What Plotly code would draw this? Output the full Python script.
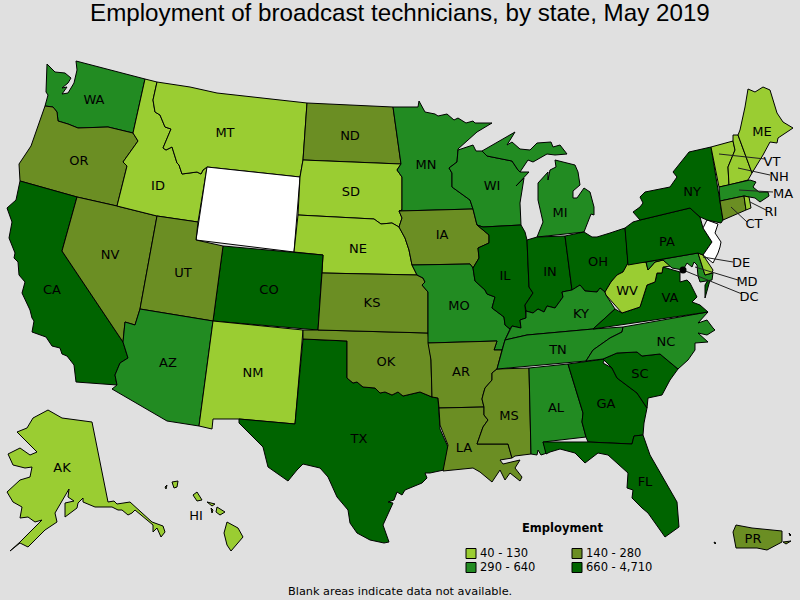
import plotly.graph_objects as go

# No topojson without network, so the outlines are traced by hand (map pixels)
WA = [(47,64),(55,72),(65,73),(71,78),(68,83),(62,88),(67,87),(62,94),(68,93),(74,83),(77,70),(76,61),(145,79),(133,133),(108,127),(78,128),(68,124),(58,121),(57,112),(53,107),(45,106),(48,95),(46,92)]
OR = [(45,106),(53,107),(57,112),(58,121),(68,124),(78,128),(108,127),(133,133),(138,141),(123,162),(127,166),(117,206),(77,197),(20,181),(19,164),(31,146)]
CA = [(20,181),(16,200),(7,208),(12,222),(9,238),(15,253),(14,258),(18,262),(19,275),(25,282),(22,293),(30,310),(32,318),(34,321),(32,332),(46,337),(52,346),(60,348),(62,354),(67,356),(74,365),(76,382),(117,385),(115,375),(120,363),(128,358),(123,342),(62,251),(77,197)]
NV = [(77,197),(117,206),(157,216),(140,309),(135,325),(125,322),(123,342),(62,251)]
ID = [(145,79),(157,82),(153,100),(155,112),(160,115),(165,127),(171,129),(163,148),(166,150),(172,147),(177,163),(179,165),(182,174),(197,172),(201,174),(203,170),(207,167),(198,222),(157,216),(117,206),(127,166),(123,162),(138,141),(133,133)]
MT = [(157,82),(190,87),(217,93),(307,103),(303,160),(300,177),(207,167),(203,170),(201,174),(197,172),(182,174),(179,165),(177,163),(172,147),(166,150),(163,148),(171,129),(165,127),(160,115),(155,112),(153,100)]
WY = [(207,167),(300,177),(294,252),(196,240)]
ND = [(307,103),(393,107),(401,164),(303,160)]
SD = [(303,160),(401,164),(397,170),(402,177),(402,210),(399,211),(402,218),(399,227),(392,223),(381,224),(374,219),(298,215),(300,177)]
NE = [(298,215),(374,219),(381,224),(392,223),(399,227),(405,238),(409,250),(412,265),(417,275),(322,273),(323,255),(294,252)]
CO = [(223,246),(323,255),(318,330),(213,321)]
UT = [(157,216),(198,222),(196,240),(223,246),(213,321),(140,309)]
AZ = [(140,309),(213,321),(199,426),(167,421),(112,389),(117,385),(115,375),(120,363),(128,358),(123,342),(125,322),(135,325)]
NM = [(213,321),(303,330),(295,424),(239,419),(213,419),(212,429),(199,426)]
TX = [(303,339),(347,341),(347,378),(353,383),(357,382),(363,387),(375,388),(380,393),(385,392),(392,395),(398,392),(403,396),(420,392),(432,397),(438,398),(440,429),(448,447),(444,470),(430,473),(425,473),(427,478),(422,483),(405,490),(402,495),(397,492),(394,500),(388,502),(393,503),(383,525),(389,542),(384,543),(370,540),(357,533),(350,523),(348,510),(337,497),(328,477),(320,468),(303,464),(297,470),(288,481),(268,467),(263,447),(239,423),(239,419),(295,424)]
OK = [(303,330),(318,330),(428,333),(429,343),(431,360),(432,397),(420,392),(403,396),(398,392),(392,395),(385,392),(380,393),(375,388),(363,387),(357,382),(353,383),(347,378),(347,341),(303,339)]
KS = [(322,273),(417,275),(423,278),(425,282),(422,285),(428,292),(428,333),(318,330)]
MN = [(393,107),(418,107),(419,101),(425,112),(435,114),(438,116),(447,114),(454,120),(458,118),(466,123),(473,121),(475,123),(492,123),(477,132),(458,149),(457,162),(449,168),(452,173),(452,187),(470,200),(473,209),(399,211),(402,210),(402,177),(397,170),(401,164)]
IA = [(399,211),(473,209),(477,225),(489,235),(489,243),(478,248),(479,258),(473,268),(470,264),(412,265),(409,250),(405,238),(399,227),(402,218)]
MO = [(412,265),(470,264),(473,268),(475,281),(485,290),(487,294),(495,297),(492,308),(504,317),(505,325),(510,329),(505,340),(502,350),(494,350),(497,341),(428,343),(428,292),(422,285),(425,282),(423,278),(417,275)]
AR = [(428,343),(497,341),(494,350),(502,350),(497,369),(492,373),(492,380),(485,388),(483,395),(482,399),(484,407),(439,408),(438,398),(432,397),(431,360)]
LA = [(439,408),(484,407),(484,415),(488,420),(483,427),(477,444),(508,444),(512,458),(500,460),(503,464),(520,460),(515,468),(522,477),(520,481),(510,473),(505,480),(500,470),(492,482),(480,472),(473,468),(453,470),(443,471),(448,445),(440,425)]
MS = [(497,369),(529,368),(531,454),(515,456),(512,458),(508,444),(477,444),(483,427),(488,420),(484,415),(484,407),(482,399),(483,395),(485,388),(492,380),(492,373)]
WI = [(458,150),(473,145),(476,151),(482,151),(487,156),(512,161),(518,170),(520,172),(529,172),(516,186),(524,178),(520,203),(521,225),(483,227),(477,225),(473,209),(470,200),(452,187),(452,173),(449,168),(457,162)]
MI = [(482,151),(507,137),(515,132),(507,145),(512,142),(520,149),(530,150),(537,143),(551,142),(553,147),(560,145),(567,154),(555,155),(547,154),(533,162),(528,160),(520,172),(518,170),(512,161),(487,156),None,
      (555,160),(575,165),(578,172),(580,185),(573,191),(573,198),(577,198),(584,188),(590,192),(594,207),(594,215),(591,214),(584,232),(537,237),(543,222),(538,200),(538,183),(548,172),(548,180),(550,170),(556,167)]
IL = [(483,227),(521,225),(525,232),(527,240),(529,287),(533,293),(525,305),(526,318),(520,320),(521,328),(512,326),(510,329),(505,325),(504,317),(492,308),(495,297),(487,294),(485,290),(475,281),(473,268),(479,258),(478,248),(489,243),(489,235),(477,225)]
IN = [(527,240),(537,237),(565,236),(572,290),(562,292),(563,297),(555,308),(547,306),(544,312),(538,309),(533,313),(526,311),(525,305),(533,293),(529,287)]
OH = [(565,236),(584,232),(592,237),(597,237),(610,233),(625,228),(627,248),(628,263),(623,272),(617,275),(611,282),(605,292),(600,288),(597,292),(585,291),(580,285),(572,290)]
KY = [(526,311),(533,313),(538,309),(544,312),(547,306),(555,308),(563,297),(562,292),(572,290),(580,285),(585,291),(597,292),(600,288),(605,292),(606,295),(615,309),(593,329),(527,335),(505,340),(510,329),(512,326),(521,328),(520,320),(526,318)]
TN = [(505,340),(527,335),(593,329),(623,327),(622,332),(610,338),(593,350),(587,360),(586,361),(497,369),(502,350)]
AL = [(529,368),(568,364),(583,413),(582,422),(586,437),(543,442),(547,453),(541,455),(538,450),(537,455),(531,454)]
GA = [(568,364),(605,359),(603,363),(612,368),(617,378),(637,393),(647,408),(644,423),(643,435),(634,436),(632,444),(588,442),(586,437),(582,422),(583,413)]
SC = [(603,359),(617,353),(637,352),(642,356),(660,354),(678,369),(670,380),(662,395),(648,398),(647,408),(637,393),(617,378),(612,368)]
NC = [(623,327),(708,312),(698,323),(707,320),(713,328),(715,330),(707,335),(698,333),(708,342),(695,343),(695,350),(688,360),(678,369),(660,354),(642,356),(637,352),(617,353),(603,359),(586,361),(593,350),(610,338),(622,332)]
FL = [(543,442),(588,442),(632,444),(634,436),(643,435),(650,455),(677,502),(679,527),(665,537),(648,513),(642,508),(632,498),(633,490),(627,488),(628,473),(617,463),(608,455),(598,453),(585,463),(575,453),(560,449),(550,452),(546,454)]
VA = [(593,329),(615,309),(622,313),(640,307),(647,285),(655,282),(657,273),(662,273),(663,267),(680,272),(680,282),(687,280),(690,283),(697,297),(692,302),(700,305),(708,312),None,
      (712,273),(705,298),(705,285),(708,280)]
WV = [(627,248),(628,263),(646,262),(648,270),(655,262),(663,260),(671,266),(663,267),(662,273),(657,273),(655,282),(647,285),(640,307),(622,313),(606,295),(605,292),(611,282),(617,275),(623,272),(628,263)]
MD = [(646,262),(698,253),(705,275),(713,273),(712,280),(700,282),(698,276),(697,265),(694,262),(692,267),(687,263),(683,270),(672,268),(663,260),(655,262),(648,270)]
DE = [(698,253),(703,255),(713,270),(712,273),(705,275)]
PA = [(625,228),(633,222),(640,220),(690,208),(700,217),(703,228),(712,242),(703,255),(698,253),(628,265)]
NJ = [(707,220),(718,224),(715,233),(721,242),(720,247),(718,253),(713,263),(703,255),(712,242),(703,228)]
NY = [(711,147),(689,152),(673,172),(677,177),(670,187),(645,192),(640,197),(643,203),(640,207),(633,212),(640,220),(690,208),(700,217),(707,220),(721,223),(723,220)]
VT = [(711,147),(733,141),(735,150),(728,167),(729,185),(719,187)]
NH = [(733,135),(738,135),(752,173),(748,180),(729,185),(728,167),(735,150),(733,141)]
ME = [(748,89),(755,92),(763,87),(770,90),(777,113),(783,122),(793,128),(778,138),(777,143),(770,142),(763,155),(752,173),(738,135),(740,130),(745,107)]
MA = [(719,187),(750,180),(756,182),(753,187),(759,192),(768,192),(769,196),(760,202),(755,198),(749,197),(744,196),(720,201)]
CT = [(720,201),(744,196),(746,210),(723,220)]
RI = [(744,196),(749,197),(751,208),(746,210)]
AK = [(48,410),(62,418),(92,422),(108,502),(114,501),(117,504),(130,502),(152,522),(163,526),(165,532),(161,537),(157,528),(153,532),(153,525),(135,510),(132,513),(128,515),(122,510),(118,510),(112,507),(95,507),(83,502),(83,498),(78,503),(77,508),(65,517),(65,503),(74,501),(68,497),(69,489),(55,513),(57,522),(45,530),(37,538),(28,547),(20,543),(10,551),(20,542),(27,535),(42,520),(35,522),(28,517),(20,518),(22,507),(13,502),(7,492),(20,480),(30,477),(32,467),(25,468),(13,465),(8,454),(20,448),(30,455),(37,452),(17,432),(27,428),(33,418)]
HI = [(227,522),(238,528),(243,537),(231,551),(227,545),(224,533),None,
      (217,507),(225,512),(220,515),(216,512),None,
      (207,502),(215,504),(212,506),None,
      (211,508),(213,510),(212,513),None,
      (193,495),(197,492),(202,500),(197,501),None,
      (172,482),(178,481),(177,487),(174,488),None,
      (165,487),(167,485),(166,489)]
PR = [(736,525),(752,528),(782,531),(782,542),(767,550),(757,548),(736,548),(733,532),None,
      (783,542),(791,541),(786,544),None,
      (789,533),(791,535),(790,536),None,
      (714,542),(716,543),(715,544)]

# class index per state: 0 = 40-130, 1 = 140-280, 2 = 290-640, 3 = 660-4,710, None = no data
states = {
    "WA": (WA, 2), "OR": (OR, 1), "CA": (CA, 3), "NV": (NV, 1), "ID": (ID, 0), "MT": (MT, 0),
    "WY": (WY, None), "ND": (ND, 1), "SD": (SD, 0), "NE": (NE, 0), "CO": (CO, 3), "UT": (UT, 1),
    "AZ": (AZ, 2), "NM": (NM, 0), "TX": (TX, 3), "OK": (OK, 1), "KS": (KS, 1), "MN": (MN, 2),
    "IA": (IA, 1), "MO": (MO, 2), "AR": (AR, 1), "LA": (LA, 1), "MS": (MS, 1), "WI": (WI, 2),
    "MI": (MI, 2), "IL": (IL, 3), "IN": (IN, 3), "OH": (OH, 3), "KY": (KY, 2), "TN": (TN, 2),
    "AL": (AL, 2), "GA": (GA, 3), "SC": (SC, 3), "NC": (NC, 2), "FL": (FL, 3), "VA": (VA, 3),
    "WV": (WV, 0), "MD": (MD, 2), "DE": (DE, 0), "PA": (PA, 3), "NJ": (NJ, None), "NY": (NY, 3),
    "VT": (VT, 0), "NH": (NH, 0), "ME": (ME, 0), "MA": (MA, 2), "CT": (CT, 1), "RI": (RI, 0),
    "AK": (AK, 0), "HI": (HI, 0), "PR": (PR, 1),
}

label_names = ["WA","OR","CA","NV","ID","MT","UT","AZ","NM","CO","ND","SD","NE","KS","OK","TX","MN","IA","MO","AR","LA","WI","IL","IN","MI","OH","KY","TN","MS","AL","GA","SC","NC","FL","NY","PA","WV","VA","ME","AK","HI","PR"]
label_x = [94,79,52,110,158,225,183,168,253,269,350,351,358,372,386,359,426,442,459,461,464,492,505,550,560,598,581,558,509,556,606,640,666,645,692,667,627,670,762,62,196,753]
label_y = [101,162,291,256,187,134,274,364,374,291,137,193,250,304,363,440,166,236,307,373,449,187,277,273,214,263,315,351,417,409,405,375,343,483,193,243,292,299,133,469,517,540]

callout_names = ["VT","NH","MA","RI","CT","DE","MD","DC"]
callout_x = [772,779,783,771,754,741,747,749]
callout_y = [163,178,195,213,225,264,283,298]
leader_from = [(719,154),(738,168),(739,190),(750,202),(731,207),(703,257),(695,267),(683,270)]
leader_to = [(765,159),(770,175),(773,192),(766,210),(747,222),(733,262),(738,280),(742,294)]

class_labels = ["40 - 130", "140 - 280", "290 - 640", "660 - 4,710"]
class_colors = ["#9ACD32", "#6B8E23", "#228B22", "#006400"]
legend_x = [471, 577, 471, 577]
legend_y = [553.5, 553.5, 567.5, 567.5]

TEXT_FONT = "DejaVu Sans"


def split_xy(points):
    xs = [p[0] if p else None for p in points]
    ys = [p[1] if p else None for p in points]
    return xs, ys


def close_rings(points):
    out, start = [], None
    for p in points + [None]:
        if p is None:
            out += [start, None]
            start = None
        else:
            start = start or p
            out.append(p)
    return out[:-1]


fig = go.Figure()

for name, (points, group) in states.items():
    xs, ys = split_xy(close_rings(points))
    color = "#FFFFFF" if group is None else class_colors[group]
    fig.add_trace(go.Scatter(x=xs, y=ys, mode="lines", fill="toself", fillcolor=color,
                             line=dict(color="#000000", width=1), name=name, hoverinfo="name"))

for start, end in zip(leader_from, leader_to):
    fig.add_trace(go.Scatter(x=[start[0], end[0]], y=[start[1], end[1]], mode="lines",
                             line=dict(color="#222222", width=1), hoverinfo="skip"))

# DC dot
fig.add_trace(go.Scatter(x=[683], y=[270], mode="markers", marker=dict(color="#000000", size=7),
                         hoverinfo="skip"))

fig.add_trace(go.Scatter(x=label_x, y=label_y, mode="text", text=label_names,
                         textfont=dict(family=TEXT_FONT, size=13, color="#000000"), hoverinfo="skip"))
fig.add_trace(go.Scatter(x=callout_x, y=callout_y, mode="text", text=callout_names,
                         textfont=dict(family=TEXT_FONT, size=13, color="#000000"), hoverinfo="skip"))

# legend swatches and their labels
fig.add_trace(go.Scatter(x=legend_x, y=legend_y, mode="markers",
                         marker=dict(symbol="square", size=10, color=class_colors,
                                     line=dict(color="#000000", width=1)),
                         hoverinfo="skip"))
fig.add_trace(go.Scatter(x=[v + 9 for v in legend_x], y=[v + 1 for v in legend_y], mode="text",
                         text=class_labels, textposition="middle right",
                         textfont=dict(family=TEXT_FONT, size=11.5, color="#000000"),
                         hoverinfo="skip"))

fig.add_annotation(x=562, y=528, text="<b>Employment</b>", showarrow=False,
                   font=dict(family=TEXT_FONT, size=11.5, color="#000000"))
fig.add_annotation(x=400, y=591, text="Blank areas indicate data not available.", showarrow=False,
                   font=dict(family=TEXT_FONT, size=11.3, color="#000000"))
fig.add_annotation(x=400, y=12, text="Employment of broadcast technicians, by state, May 2019",
                   showarrow=False, font=dict(family="Liberation Sans", size=24.2, color="#000000"))

fig.update_layout(
    width=800, height=600, margin=dict(l=0, r=0, t=0, b=0),
    paper_bgcolor="#E0E0E0", plot_bgcolor="#E0E0E0", showlegend=False,
    xaxis=dict(range=[0, 800], visible=False, fixedrange=True),
    yaxis=dict(range=[600, 0], visible=False, fixedrange=True),
)
# the page's default body margin would shift the map by 8px
fig.write_html("out.html", config=dict(displayModeBar=False),
               post_script="document.body.style.margin = '0';")
